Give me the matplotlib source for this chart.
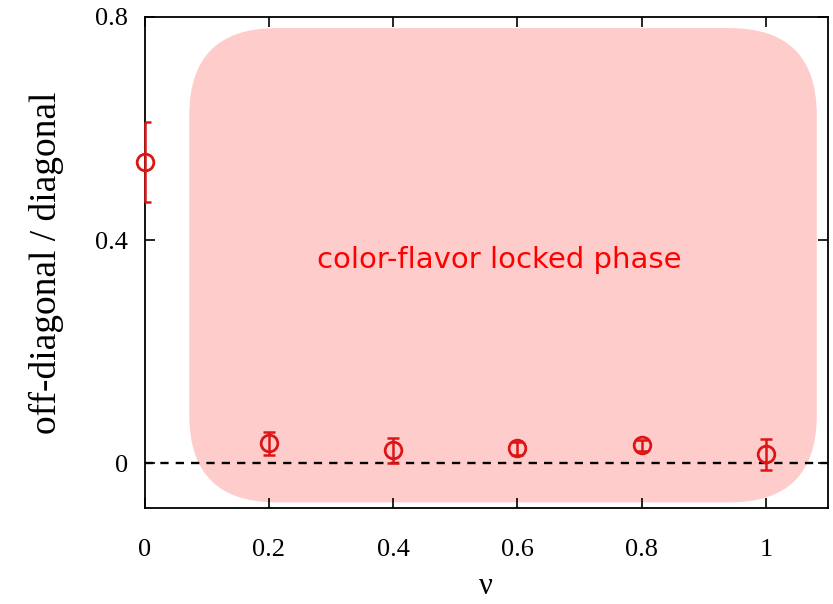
import matplotlib
matplotlib.use("Agg")
from matplotlib import pyplot as plt
from matplotlib.patches import FancyBboxPatch

# data
nu = [0.0, 0.2, 0.4, 0.6, 0.8, 1.0]
ratio = [0.54, 0.036, 0.023, 0.027, 0.032, 0.016]
ratio_err = [0.071, 0.021, 0.023, 0.012, 0.010, 0.028]
xticks = [0, 0.2, 0.4, 0.6, 0.8, 1]
xtick_labels = ["0", "0.2", "0.4", "0.6", "0.8", "1"]
yticks = [0, 0.4, 0.8]
ytick_labels = ["0", "0.4", "0.8"]

plt.rcParams["font.family"] = ["Liberation Serif", "DejaVu Serif"]

fig = plt.figure(figsize=(8.33, 6.04), dpi=100)
ax = fig.add_axes([0.1735, 0.159, 0.8205, 0.813])
ax.set_xlim(0, 1.1)
ax.set_ylim(-0.08, 0.8)

# pink region (rounded box)
box = FancyBboxPatch((0.072, -0.07), 1.082 - 0.072, 0.78 + 0.07,
                     boxstyle="round,pad=0,rounding_size=0.14",
                     mutation_aspect=1.117,
                     facecolor="#ffcccc", edgecolor="none", zorder=1)
ax.add_patch(box)

ax.axhline(0, color="black", ls=(0, (3.5, 3)), lw=1.7, zorder=2)

red = "#dd1515"
_, caps, bars = ax.errorbar(nu, ratio, yerr=ratio_err, fmt="none", ecolor=red,
                            elinewidth=1.8, capsize=4, capthick=1.8, zorder=7)
for b in bars:
    b.set_clip_on(False)
ax.plot(nu, ratio, "o", mfc="none", mec=red, mew=2.0, ms=12,
        clip_on=False, zorder=8)

ax.text(0.571, 0.364, "color-flavor locked phase", color="red",
        fontsize=21, family="DejaVu Sans", ha="center", va="center",
        zorder=5)

ax.set_xticks(xticks)
ax.set_xticklabels(xtick_labels)
ax.set_yticks(yticks)
ax.set_yticklabels(ytick_labels)
ax.tick_params(direction="in", top=True, right=True, length=7, width=1.2,
               labelsize=19)
ax.tick_params(axis="x", pad=22)
ax.tick_params(axis="y", pad=12)
for s in ax.spines.values():
    s.set_linewidth(1.3)
    s.set_zorder(6)

ax.set_xlabel("ν", fontsize=22, labelpad=8)
ax.set_ylabel("off-diagonal / diagonal", fontsize=27, labelpad=22)

fig.savefig("out.png", dpi=100)
